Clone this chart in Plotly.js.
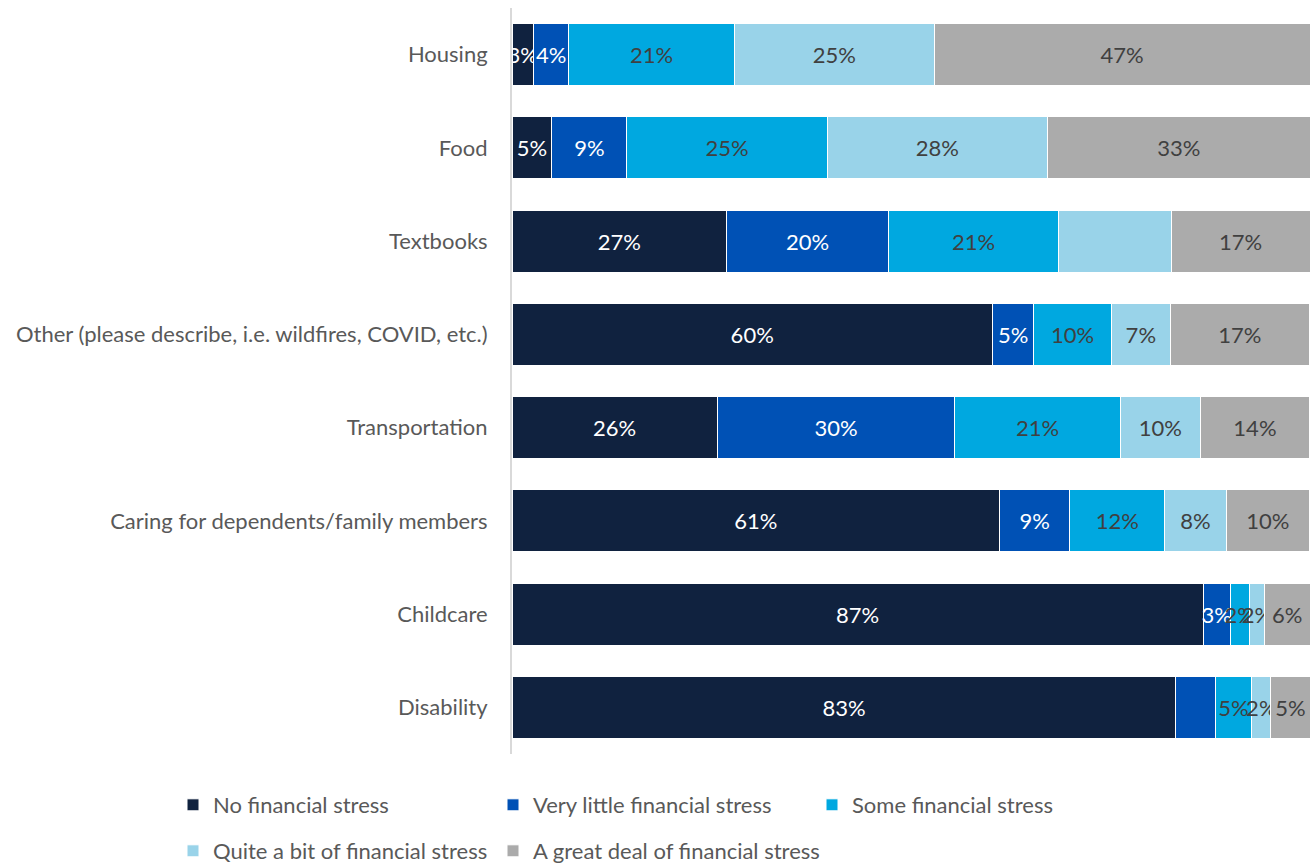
<!DOCTYPE html>
<html>
<head>
<meta charset="utf-8">
<script src="https://cdn.plot.ly/plotly-3.0.1.min.js"></script>
<style>
  html, body { margin: 0; padding: 0; background: #ffffff; }
  #chart { width: 1310px; height: 865px; }
</style>
</head>
<body>
<div id="chart"></div>
<script>
const categories = [
  'Housing',
  'Food',
  'Textbooks',
  'Other (please describe, i.e. wildfires, COVID, etc.)',
  'Transportation',
  'Caring for dependents/family members',
  'Childcare',
  'Disability'
];

const seriesNames = [
  'No financial stress',
  'Very little financial stress',
  'Some financial stress',
  'Quite a bit of financial stress',
  'A great deal of financial stress'
];

// shares in percent (labels show them rounded)
const noStress   = [2.7, 5.0, 26.9, 60.2, 25.7, 61.1, 86.6, 83.2];
const veryLittle = [4.4, 9.4, 20.3, 5.2, 29.8, 8.8, 3.4, 4.9];
const someStress = [20.8, 25.1, 21.3, 9.7, 20.7, 11.9, 2.4, 4.6];
const quiteABit  = [25.0, 27.6, 14.1, 7.4, 10.1, 7.7, 1.9, 2.4];
const greatDeal  = [47.1, 32.9, 17.4, 17.4, 13.6, 10.4, 5.7, 4.9];

// labels not shown in the original chart: [series index, category]
const hiddenLabels = [[3, 'Textbooks'], [1, 'Disability']];

const seriesValues = [noStress, veryLittle, someStress, quiteABit, greatDeal];
const seriesColors = ['#10223F', '#0051B5', '#00A8E0', '#99D3E9', '#ABABAB'];
const labelColors  = ['#FFFFFF', '#FFFFFF', '#404040', '#404040', '#404040'];
const legendIds    = ['legend', 'legend2', 'legend3', 'legend4', 'legend5'];

const FONT = 'Lato, "Open Sans", sans-serif';
const FS = 22;

const traces = seriesValues.map((vals, i) => ({
  type: 'bar',
  orientation: 'h',
  name: seriesNames[i],
  y: categories,
  x: vals,
  text: vals.map((v, j) => hiddenLabels.some(h => h[0] === i && h[1] === categories[j]) ? '' : Math.round(v) + '%'),
  texttemplate: '%{text}',
  textposition: 'inside',
  insidetextanchor: 'middle',
  textangle: 0,
  constraintext: 'none',
  textfont: { family: FONT, size: FS, color: labelColors[i] },
  marker: { color: seriesColors[i], line: { color: '#FFFFFF', width: 1 } },
  legend: legendIds[i],
  hoverinfo: 'name+x'
}));

function legendBox(textX, rowY) {
  return {
    orientation: 'h',
    xref: 'container', yref: 'container',
    x: (textX - 40) / 1310, xanchor: 'left',
    y: 1 - rowY / 865, yanchor: 'middle',
    font: { family: FONT, size: FS, color: '#595959' },
    bgcolor: 'rgba(0,0,0,0)'
  };
}

const layout = {
  width: 1310,
  height: 865,
  margin: { l: 512, r: 0, t: 8, b: 111 },
  paper_bgcolor: '#FFFFFF',
  plot_bgcolor: '#FFFFFF',
  barmode: 'stack',
  bargap: 0.335,
  font: { family: FONT, size: FS, color: '#595959' },
  uniformtext: { minsize: FS, mode: 'show' },
  xaxis: {
    range: [0, 100],
    showticklabels: false,
    showgrid: false,
    zeroline: false,
    showline: false,
    ticks: ''
  },
  yaxis: {
    autorange: 'reversed',
    showgrid: false,
    zeroline: false,
    showline: true,
    linecolor: '#D9D9D9',
    linewidth: 2,
    ticks: '',
    ticklabelstandoff: 18,
    tickfont: { family: FONT, size: FS, color: '#595959' }
  },
  showlegend: true,
  legend:  legendBox(213, 805),
  legend2: legendBox(533, 805),
  legend3: legendBox(852, 805),
  legend4: legendBox(213, 851),
  legend5: legendBox(533, 851)
};

Plotly.newPlot('chart', traces, layout, { displayModeBar: false, staticPlot: true });
</script>
</body>
</html>
